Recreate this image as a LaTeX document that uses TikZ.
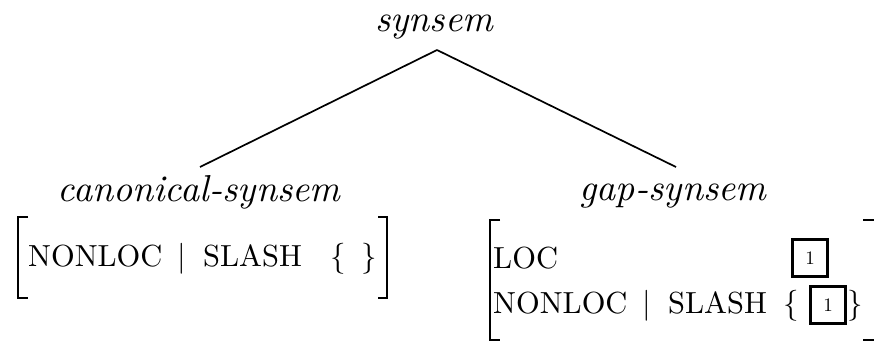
\documentclass[tikz,border=0pt]{standalone}
\usepackage{fontspec}
\newcommand{\lblsize}[1]{\scalebox{3.75}{\itshape #1}}
\newcommand{\avmsize}[1]{\scalebox{3.05}{#1}}
\newcommand{\symsize}[1]{\scalebox{3.1}{$#1$}}
\begin{document}
\begin{tikzpicture}[x=1pt,y=-1pt,
  lbl/.style={inner sep=0pt, anchor=base},
  avm/.style={inner sep=0pt, anchor=base west},
  sym/.style={inner sep=0pt, anchor=base},
  edge/.style={line width=1.7pt},
  brk/.style={line width=2.4pt},
  tagbox/.style={draw, line width=2.4pt, minimum width=35pt, minimum height=37pt, inner sep=0pt}]
\useasboundingbox (0,0) rectangle (874,343);
% tree labels
\node[lbl] (root) at (434,31) {\lblsize{synsem}};
\node[lbl] (can) at (199,201) {\lblsize{canonical-synsem}};
\node[lbl] (gap) at (673,200) {\lblsize{gap-synsem}};
\coordinate (apex) at (437,50);
\coordinate (canend) at (200,167);
\coordinate (gapend) at (676,167);
\draw[edge] (apex) -- (canend);
\draw[edge] (apex) -- (gapend);
% left AVM
\draw[brk] (28,217) -- (18,217) -- (18,298) -- (28,298);
\draw[brk] (378,217) -- (387,217) -- (387,298) -- (378,298);
\node[avm] (cnl) at (28,266) {\avmsize{NONLOC}};
\node[sym] (cbar) at (182,266) {\symsize{|}};
\node[avm] (csl) at (203,266) {\avmsize{SLASH}};
\node[sym] (clb) at (338,266) {\symsize{\{}};
\node[sym] (crb) at (369,266) {\symsize{\}}};
% right AVM
\draw[brk] (500,220) -- (490,220) -- (490,340) -- (500,340);
\draw[brk] (863,220) -- (876,220) -- (876,340) -- (863,340);
\node[avm] (gloc) at (493,268) {\avmsize{LOC}};
\node[tagbox] (t1) at (810,258) {\scalebox{1.9}{1}};
\node[avm] (gnl) at (493,313) {\avmsize{NONLOC}};
\node[sym] (gbar) at (647,313) {\symsize{|}};
\node[avm] (gsl) at (668,313) {\avmsize{SLASH}};
\node[sym] (glb) at (791,313) {\symsize{\{}};
\node[tagbox] (t2) at (828,305) {\scalebox{1.9}{1}};
\node[sym] (grb) at (855,313) {\symsize{\}}};
\end{tikzpicture}
\end{document}
